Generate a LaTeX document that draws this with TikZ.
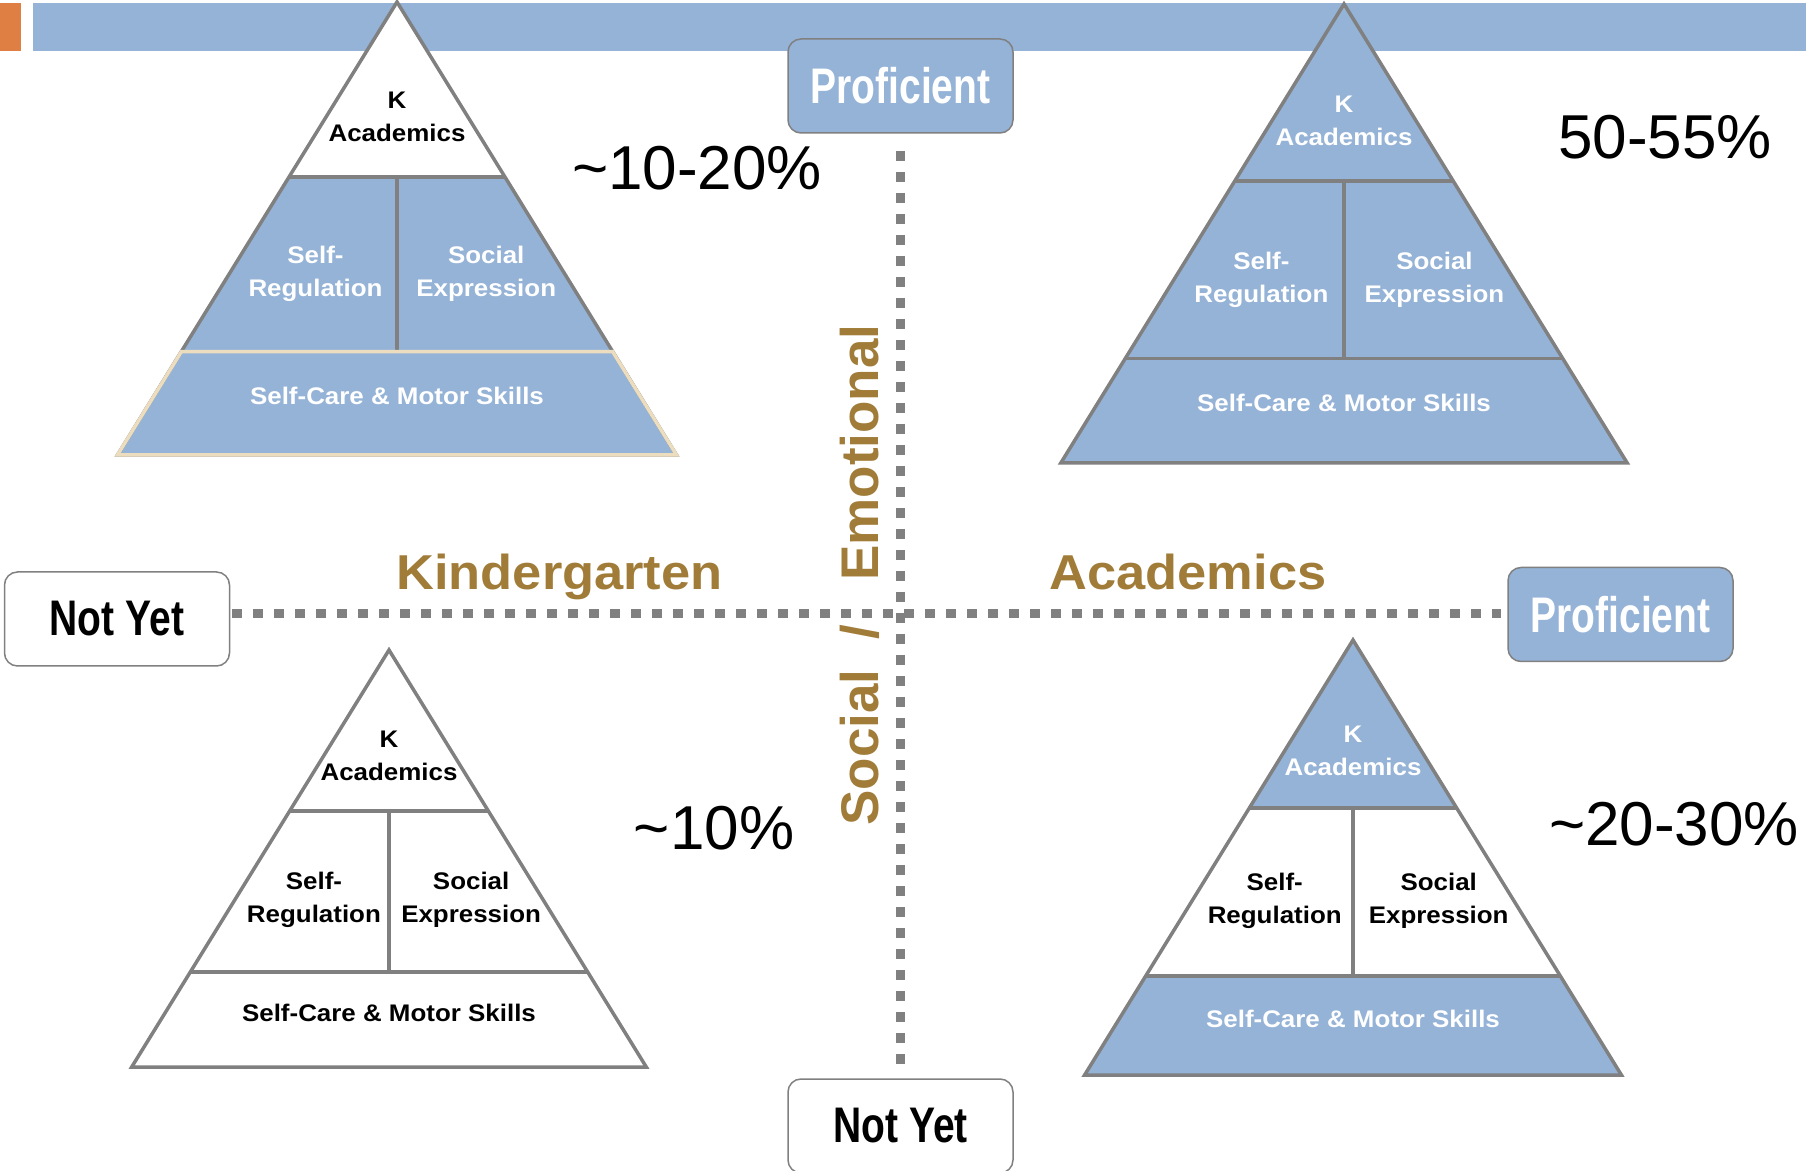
\documentclass[tikz,border=0pt]{standalone}
\usepackage{fontspec}
\setmainfont{Liberation Sans}
\newfontfamily\tierfont[FakeStretch=1.08]{Liberation Sans}
\newfontfamily\narrowfont[FakeStretch=0.78]{Liberation Sans}
\newfontfamily\axisfont[FakeStretch=1.07]{Liberation Sans}
\usetikzlibrary{positioning}

\definecolor{pyrblue}{RGB}{149,179,215}
\definecolor{edgegray}{RGB}{128,128,128}
\definecolor{axisgold}{RGB}{160,124,56}
\definecolor{barorange}{RGB}{224,127,68}
\definecolor{creamedge}{RGB}{236,221,190}

\tikzstyle{levelbox} = [rounded corners=6.5pt, draw=edgegray, line width=0.75pt, minimum width=112.5pt, minimum height=47pt, inner sep=0pt, font=\narrowfont\bfseries\fontsize{25}{28}\selectfont]
\tikzstyle{proficient} = [levelbox, fill=pyrblue, text=white]
\tikzstyle{notyet} = [levelbox, fill=white, text=black]
\tikzstyle{dotline} = [draw=edgegray, line width=4.5pt, dash pattern=on 5pt off 5.5pt]
\tikzstyle{axislabel} = [text=axisgold, inner sep=0pt, font=\axisfont\bfseries\fontsize{24.5}{28}\selectfont]
\tikzstyle{share} = [inner sep=0pt, anchor=base, font=\fontsize{31}{36}\selectfont]
\tikzstyle{tiertext} = [align=center, inner sep=0pt, font=\tierfont\bfseries\fontsize{12}{16.5}\selectfont]
\tikzstyle{tieredge} = [draw=edgegray, line width=1.75pt]
\tikzstyle{blue fill} = [fill=pyrblue]
\tikzstyle{blue text} = [tiertext, text=white]
\tikzstyle{white fill} = [fill=white]
\tikzstyle{white text} = [tiertext, text=black]

% pyramid: #1 name, #2/#3 apex, #4 height, #5-#7 look of the three tiers (blue/white)
\newcommand{\pyramid}[7][p]{%
	\pgfmathsetmacro{\pyrunit}{0.5*#4}
	\begin{scope}[shift={(#2,#3)}, x=\pyrunit pt, y=-\pyrunit pt]
		\coordinate (#1-apex) at (0,0);
		\coordinate (#1-l1) at (-0.238,0.386);
		\coordinate (#1-r1) at (0.238,0.386);
		\coordinate (#1-l2) at (-0.476,0.772);
		\coordinate (#1-r2) at (0.476,0.772);
		\coordinate (#1-bl) at (-0.617,1);
		\coordinate (#1-br) at (0.617,1);
		\coordinate (#1-m1) at (0,0.386);
		\coordinate (#1-m2) at (0,0.772);
		\fill[#5 fill] (#1-apex) -- (#1-r1) -- (#1-l1) -- cycle;
		\fill[#6 fill] (#1-l1) -- (#1-r1) -- (#1-r2) -- (#1-l2) -- cycle;
		\fill[#7 fill] (#1-l2) -- (#1-r2) -- (#1-br) -- (#1-bl) -- cycle;
		\draw[tieredge] (#1-apex) -- (#1-br) -- (#1-bl) -- cycle;
		\draw[tieredge] (#1-l1) -- (#1-r1) (#1-l2) -- (#1-r2) (#1-m1) -- (#1-m2);
		\node[#5 text] (#1-top) at (0,0.254) {K\\Academics};
		\node[#6 text] (#1-self) at (-0.18,0.6) {Self-\\Regulation};
		\node[#6 text] (#1-social) at (0.197,0.6) {Social\\Expression};
		\node[#7 text] (#1-care) at (0,0.87) {Self-Care \& Motor Skills};
	\end{scope}}

\begin{document}
\begin{tikzpicture}[x=0.5pt, y=-0.5pt]
	\clip (0,0) rectangle (1806,1171);
	% header strip
	\fill[barorange] (0,3) rectangle (21,51);
	\fill[pyrblue] (33,3) rectangle (1806,51);
	% the four quadrants
	\pyramid[tl]{397}{2}{453}{white}{blue}{blue}
	\draw[creamedge, line width=1.75pt] (tl-l2) -- (tl-r2) -- (tl-br) -- (tl-bl) -- cycle;
	\pyramid[tr]{1344}{4}{459}{blue}{blue}{blue}
	\pyramid[bl]{389}{650}{417}{white}{white}{white}
	\pyramid[br]{1353}{640}{435}{blue}{white}{blue}
	% axes
	\node[proficient] (up) at (900.5,86) {Proficient};
	\node[notyet] (down) at (900.5,1126) {Not Yet};
	\node[notyet] (left) at (117,619) {Not Yet};
	\node[proficient] (right) at (1620.5,614.5) {Proficient};
	\coordinate (origin) at (900.5,614);
	\draw[dotline, shorten <=8.5pt, shorten >=6pt] (up) -- (down);
	\draw[dotline, shorten <=1pt, shorten >=3pt] (left.east |- origin) -- (right.west |- origin);
	\node[axislabel, anchor=base] (kinder) at (559.5,590) {Kindergarten};
	\node[axislabel, anchor=base] (acad) at (1188,590) {Academics};
	\node[axislabel, rotate=90, font=\bfseries\fontsize{26.5}{30}\selectfont] (socemo) at (860,575) {Social\hspace{15pt}/\hspace{22pt}Emotional};
	% shares
	\node[share] (share-tl) at (697,190) {\textasciitilde 10-20\%};
	\node[share] (share-tr) at (1665,159) {50-55\%};
	\node[share] (share-bl) at (714,849) {\textasciitilde 10\%};
	\node[share] (share-br) at (1674,845) {\textasciitilde 20-30\%};
\end{tikzpicture}
\end{document}
